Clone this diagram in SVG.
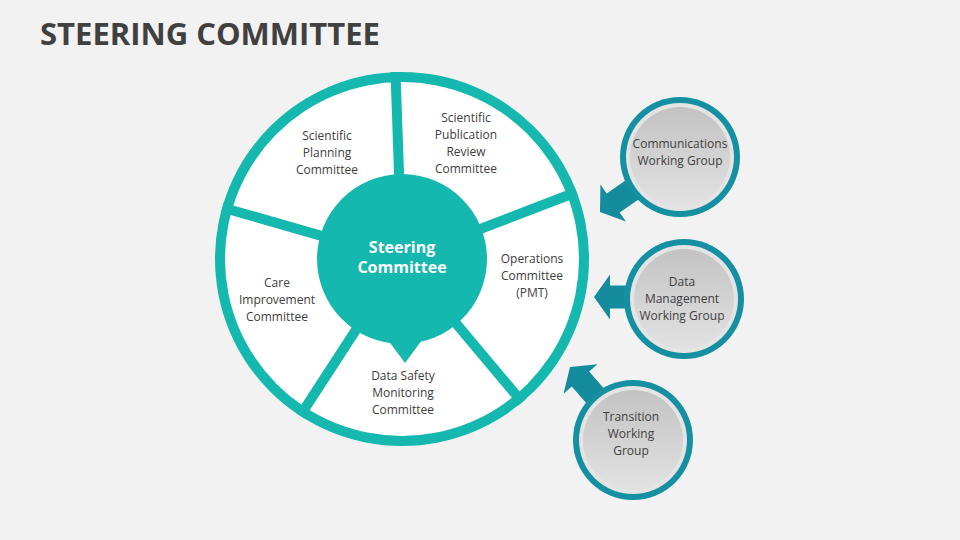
<svg xmlns="http://www.w3.org/2000/svg" width="960" height="540" viewBox="0 0 960 540">
  <defs>
    <linearGradient id="gray" x1="0" y1="0" x2="0" y2="1">
      <stop offset="0" stop-color="#c3c3c3"/>
      <stop offset="1" stop-color="#e2e2e2"/>
    </linearGradient>
    <style>
      .t{font-family:"Open Sans","Liberation Sans",sans-serif;font-size:12px;fill:#404040;text-anchor:middle}
      .spoke{stroke:#14b8ae;stroke-width:10;stroke-linecap:butt}
      .ring{fill:#1590a2}
      .rim{fill:#e4e4e4}
      .core{fill:url(#gray)}
      .arrow{fill:#148c9e}
    </style>
  </defs>
  <rect width="960" height="540" fill="#f2f2f2"/>
  <text x="40" y="45" font-family="'Open Sans','Liberation Sans',sans-serif" font-weight="bold" font-size="31" fill="#404040">STEERING COMMITTEE</text>

  <g id="connectors">
    <polygon class="arrow" transform="translate(600,212) rotate(-34.5)" points="0,0 16,-22.5 16,-11.5 52,-11.5 52,11.5 16,11.5 16,22.5"/>
    <polygon class="arrow" transform="translate(594,297)" points="0,0 16,-22.5 16,-11.5 50,-11.5 50,11.5 16,11.5 16,22.5"/>
    <polygon class="arrow" transform="translate(570,367) rotate(49)" points="0,0 16,-22.5 16,-11.5 52,-11.5 52,11.5 16,11.5 16,22.5"/>
  </g>

  <g id="main-wheel">
    <circle cx="402" cy="259" r="187" fill="#14b8ae"/>
    <circle cx="402" cy="259" r="177" fill="#ffffff"/>
    <g transform="translate(402,259)">
      <line class="spoke" x1="0" y1="0" x2="187" y2="0" transform="rotate(-92)"/>
      <line class="spoke" x1="0" y1="0" x2="187" y2="0" transform="rotate(-21)"/>
      <line class="spoke" x1="0" y1="0" x2="187" y2="0" transform="rotate(50)"/>
      <line class="spoke" x1="0" y1="0" x2="187" y2="0" transform="rotate(123)"/>
      <line class="spoke" x1="0" y1="0" x2="187" y2="0" transform="rotate(196)"/>
    </g>
  </g>

  <g id="steering-committee">
    <circle cx="402" cy="259" r="85" fill="#14b8ae"/>
    <polygon points="385,336 405,363 425,336" fill="#14b8ae"/>
    <text x="402" y="253" font-family="'Open Sans','Liberation Sans',sans-serif" font-weight="bold" font-size="16" fill="#ffffff" text-anchor="middle">Steering</text>
    <text x="402" y="273" font-family="'Open Sans','Liberation Sans',sans-serif" font-weight="bold" font-size="16" fill="#ffffff" text-anchor="middle">Committee</text>
  </g>

  <g id="scientific-planning">
    <text class="t" x="327" y="140">Scientific</text>
    <text class="t" x="327" y="157">Planning</text>
    <text class="t" x="327" y="174">Committee</text>
  </g>
  <g id="scientific-publication">
    <text class="t" x="466" y="122">Scientific</text>
    <text class="t" x="466" y="139">Publication</text>
    <text class="t" x="466" y="156">Review</text>
    <text class="t" x="466" y="173">Committee</text>
  </g>
  <g id="operations">
    <text class="t" x="532" y="263">Operations</text>
    <text class="t" x="532" y="280">Committee</text>
    <text class="t" x="532" y="297">(PMT)</text>
  </g>
  <g id="care-improvement">
    <text class="t" x="277" y="287">Care</text>
    <text class="t" x="277" y="304">Improvement</text>
    <text class="t" x="277" y="321">Committee</text>
  </g>
  <g id="data-safety">
    <text class="t" x="403" y="380">Data Safety</text>
    <text class="t" x="403" y="397">Monitoring</text>
    <text class="t" x="403" y="414">Committee</text>
  </g>

  <g id="communications-wg">
    <circle class="ring" cx="680" cy="157" r="60"/>
    <circle class="rim" cx="680" cy="157" r="54"/>
    <circle class="core" cx="680" cy="157" r="50"/>
    <text class="t" x="680" y="148">Communications</text>
    <text class="t" x="680" y="165">Working Group</text>
  </g>
  <g id="data-management-wg">
    <circle class="ring" cx="684" cy="299" r="60"/>
    <circle class="rim" cx="684" cy="299" r="54"/>
    <circle class="core" cx="684" cy="299" r="50"/>
    <text class="t" x="682" y="286">Data</text>
    <text class="t" x="682" y="303">Management</text>
    <text class="t" x="682" y="320">Working Group</text>
  </g>
  <g id="transition-wg">
    <circle class="ring" cx="633" cy="440" r="60"/>
    <circle class="rim" cx="633" cy="440" r="54"/>
    <circle class="core" cx="633" cy="440" r="50"/>
    <text class="t" x="631" y="421">Transition</text>
    <text class="t" x="631" y="438">Working</text>
    <text class="t" x="631" y="455">Group</text>
  </g>
</svg>
